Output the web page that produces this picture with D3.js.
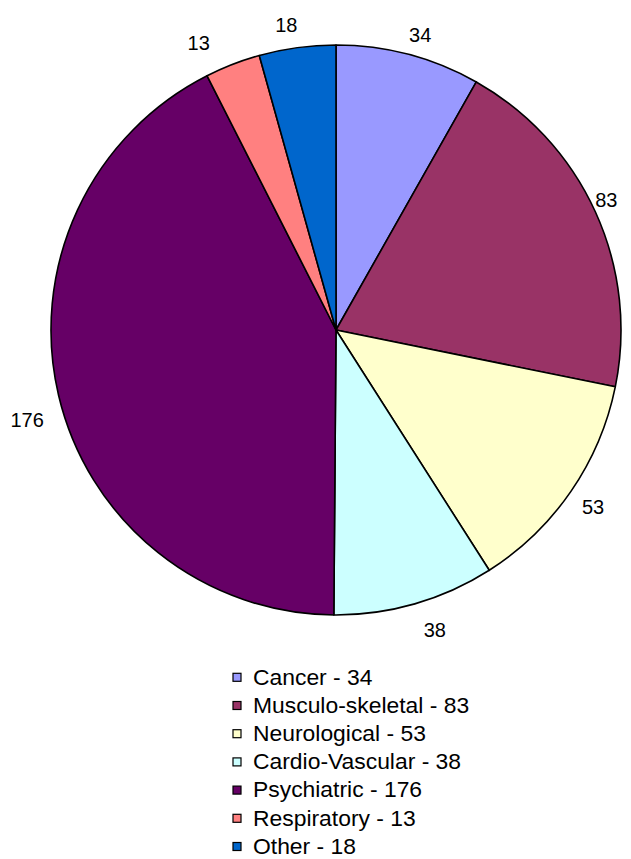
<!DOCTYPE html>
<html><head><meta charset="utf-8">
<script src="https://cdn.jsdelivr.net/npm/d3@7/dist/d3.min.js"></script>
<style>body{margin:0;background:#fff}svg{display:block}</style>
</head><body>
<script>
const categories = ["Cancer","Musculo-skeletal","Neurological","Cardio-Vascular","Psychiatric","Respiratory","Other"];
const values = [34,83,53,38,176,13,18];
const colors = ["#9999FF","#993366","#FFFFCC","#CCFFFF","#660066","#FF8080","#0066CC"];

const W=631,H=859, cx=336, cy=330, R=285;
// label placement tweaks (Excel best-fit style), layout only
const labelNudge = {"Cancer":[6,2],"Musculo-skeletal":[-9,-3],"Neurological":[4,3],"Cardio-Vascular":[14,5],"Psychiatric":[-10,20],"Respiratory":[-26,-1],"Other":[-8,-1]};

const svg=d3.select("body").append("svg").attr("width",W).attr("height",H);
const data=categories.map((c,i)=>({c,v:values[i],col:colors[i]}));
const pie=d3.pie().value(d=>d.v).sort(null);
const arcs=pie(data);
const arc=d3.arc().innerRadius(0).outerRadius(R);
const g=svg.append("g").attr("transform",`translate(${cx},${cy})`);
g.selectAll("path").data(arcs).join("path").attr("d",arc)
 .attr("fill",d=>d.data.col).attr("stroke","#000").attr("stroke-width",1.6).attr("stroke-linejoin","round");

const font="Liberation Sans, Arial, sans-serif";
g.selectAll("text.lab").data(arcs).join("text").attr("class","lab")
 .attr("font-family",font).attr("font-size",20)
 .attr("text-anchor","middle").attr("dominant-baseline","central").attr("fill","#000")
 .text(d=>d.data.v)
 .each(function(d){
   const a=(d.startAngle+d.endAngle)/2, r=307;
   const n=labelNudge[d.data.c]||[0,0];
   d3.select(this).attr("x",Math.sin(a)*r+n[0]).attr("y",-Math.cos(a)*r+n[1]);
 });

const leg=svg.append("g").attr("transform","translate(233,677.3)");
const rows=leg.selectAll("g").data(data).join("g").attr("transform",(d,i)=>`translate(0,${i*28.2})`);
rows.append("rect").attr("x",0).attr("y",-4).attr("width",8).attr("height",8)
 .attr("fill",d=>d.col).attr("stroke","#000").attr("stroke-width",1.2);
rows.append("text").attr("transform","translate(20,0) scale(1.04,1)").attr("dominant-baseline","central")
 .attr("font-family",font).attr("font-size",22).attr("fill","#000")
 .text(d=>`${d.c} - ${d.v}`);
</script>
</body></html>
